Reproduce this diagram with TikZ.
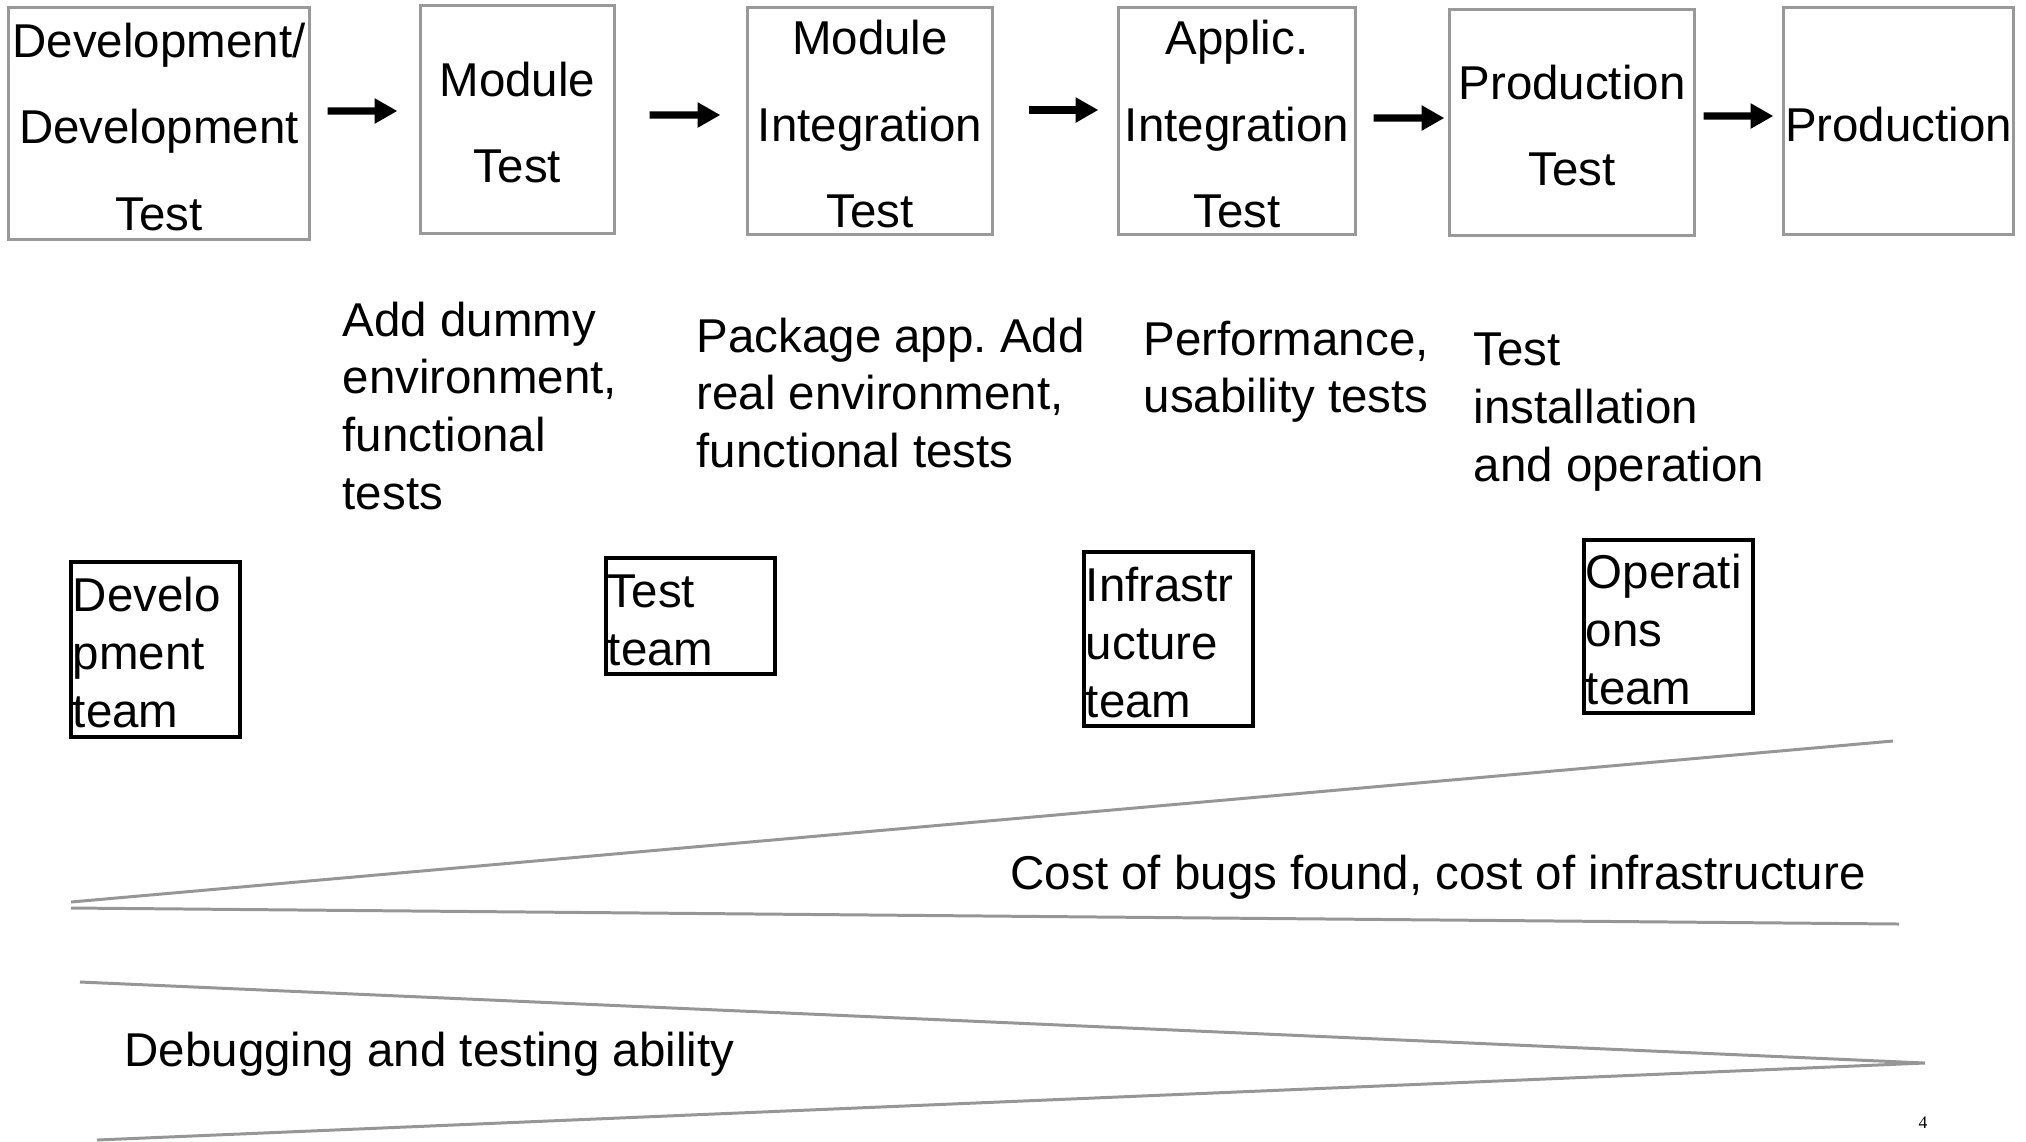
\documentclass[tikz,border=0pt]{standalone}
\usepackage{fontspec}
\setmainfont{Liberation Sans}
\newfontfamily\pagenumfont{Liberation Serif}
\usetikzlibrary{arrows.meta}
\frenchspacing
\definecolor{boxgray}{RGB}{153,153,153}
\definecolor{linegray}{RGB}{150,150,150}
\newcommand\stagefont{\fontsize{13.5pt}{24.6pt}\selectfont}
\newcommand\notefont{\fontsize{13.5pt}{16.45pt}\selectfont}
\newcommand\topstrut{\rule{0pt}{11.6pt}}
\tikzset{
  stagebox/.style={draw=boxgray, line width=0.85pt, inner sep=0pt, align=center, font=\stagefont},
  teambox/.style={draw=black, line width=0.9pt, inner xsep=0.02cm, inner ysep=0pt, align=left, font=\notefont},
  notetext/.style={inner sep=0pt, align=left, anchor=north west, font=\notefont},
  flowarrow/.style={line width=2pt, -{Triangle[length=6.5pt,width=6.8pt]}},
  wedge/.style={draw=linegray, line width=0.85pt},
}
\begin{document}
\begin{tikzpicture}[x=0.01cm, y=-0.01cm]
\useasboundingbox (0,0) rectangle (2026,1141);
% stage boxes
\node[stagebox, minimum width=3.00cm, minimum height=2.31cm] (b1) at (159,123.5) {\topstrut Development/\\Development\\Test};
\node[stagebox, minimum width=1.93cm, minimum height=2.27cm] (b2) at (517.5,119.5) {\topstrut Module\\Test};
\node[stagebox, minimum width=2.44cm, minimum height=2.26cm] (b3) at (870,121) {\topstrut Module\\Integration\\Test};
\node[stagebox, minimum width=2.36cm, minimum height=2.26cm] (b4) at (1237,121) {\topstrut Applic.\\Integration\\Test};
\node[stagebox, minimum width=2.44cm, minimum height=2.25cm] (b5) at (1572,122.5) {\topstrut Production\\Test};
\node[stagebox, minimum width=2.29cm, minimum height=2.26cm] (b6) at (1898.5,121) {\topstrut Production};
% arrows
\draw[flowarrow] ([xshift=0.17cm,yshift=0.125cm]b1.east) -- ([xshift=-0.22cm,yshift=0.085cm]b2.west);
\draw[flowarrow] ([xshift=0.34cm,yshift=0.045cm]b2.east) -- ([xshift=-0.26cm,yshift=0.06cm]b3.west);
\draw[flowarrow] ([xshift=0.35cm,yshift=0.11cm]b3.east) -- ([xshift=-0.19cm,yshift=0.11cm]b4.west);
\draw[flowarrow] ([xshift=0.17cm,yshift=0.03cm]b4.east) -- ([xshift=-0.04cm,yshift=0.045cm]b5.west);
\draw[flowarrow] ([xshift=0.08cm,yshift=0.065cm]b5.east) -- ([xshift=-0.09cm,yshift=0.05cm]b6.west);
% notes
\node[notetext] (n1) at (342,301) {Add dummy\\environment,\\functional\\tests};
\node[notetext] (n2) at (696,317) {Package app. Add\\real environment,\\functional tests};
\node[notetext] (n3) at (1143,320) {Performance,\\usability tests};
\node[notetext] (n4) at (1473,332) {Test\\installation\\and operation};
% teams
\node[teambox, text width=1.65cm, minimum height=1.75cm] (t1) at (155.5,649.5) {\topstrut Develo\\pment\\team};
\node[teambox, text width=1.65cm, minimum height=1.16cm] (t2) at (690.5,616) {\topstrut Test\\team};
\node[teambox, text width=1.65cm, minimum height=1.74cm] (t3) at (1168.5,639) {\topstrut Infrastr\\ucture\\team};
\node[teambox, text width=1.65cm, minimum height=1.73cm] (t4) at (1668.5,626.5) {\topstrut Operati\\ons\\team};
% wedges
\draw[wedge] (1893,741) -- (71,902);
\draw[wedge] (71,908) -- (1899,924);
\draw[wedge] (80,982) -- (1925,1063) -- (97,1140);
\node[inner sep=0pt, anchor=west, font=\notefont] (cost) at (1010,877) {Cost of bugs found, cost of infrastructure};
\node[inner sep=0pt, anchor=west, font=\notefont] (debug) at (124,1054) {Debugging and testing ability};
\node[inner sep=0pt, font=\pagenumfont\fontsize{5pt}{6pt}\selectfont] (pg) at (1923,1123) {4};
\end{tikzpicture}
\end{document}
